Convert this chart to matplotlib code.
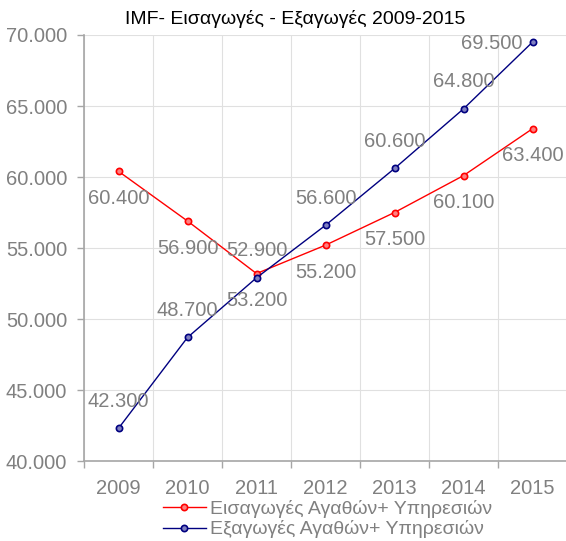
import matplotlib
matplotlib.use("Agg")
import matplotlib.pyplot as plt
from matplotlib.lines import Line2D

years = ["2009", "2010", "2011", "2012", "2013", "2014", "2015"]
imports = [60400, 56900, 53200, 55200, 57500, 60100, 63400]
exports = [42300, 48700, 52900, 56600, 60600, 64800, 69500]
title = "IMF- Εισαγωγές - Εξαγωγές 2009-2015"
imports_name = "Εισαγωγές Αγαθών+ Υπηρεσιών"
exports_name = "Εξαγωγές Αγαθών+ Υπηρεσιών"

plt.rcParams['font.family'] = ['Liberation Sans', 'DejaVu Sans']

W, H = 566, 541
fig = plt.figure(figsize=(W / 100, H / 100), dpi=100)
L, R, T, B = 84, 567, 35, 461
ax = fig.add_axes([L / W, 1 - B / H, (R - L) / W, (B - T) / H])

red = "#FF0000"
blue = "#000080"
gray = "#808080"
fs = 14.5

x = list(range(len(years)))
ax.plot(x, imports, color=red, lw=1, marker='o', ms=4.5, mfc="#ff8080", mec=red, mew=1.2, zorder=3)
ax.plot(x, exports, color=blue, lw=1, marker='o', ms=4.5, mfc="#8080c0", mec=blue, mew=1.2, zorder=3)

def fmt(v):
    return f"{v:,.0f}".replace(",", ".")

for i, v in enumerate(imports):
    ax.annotate(fmt(v), (i, v), xytext=(0, -27), textcoords='offset pixels',
                ha='center', va='center', fontsize=fs, color=gray, zorder=4)
for i, v in enumerate(exports):
    if i == len(exports) - 1:
        off = (-41, -1)
    else:
        off = (0, 27)
    ax.annotate(fmt(v), (i, v), xytext=off, textcoords='offset pixels',
                ha='center', va='center', fontsize=fs, color=gray, zorder=4)

ax.set_xlim(-0.5, len(years) - 0.5)
ax.set_ylim(40000, 70000)
ax.set_yticks(range(40000, 70001, 5000))
ax.set_yticklabels([fmt(v) for v in range(40000, 70001, 5000)])
ax.set_xticks(x)
ax.set_xticklabels(years)
ax.set_xticks([i - 0.5 for i in range(len(years) + 1)], minor=True)

ax.tick_params(axis='y', length=5, width=1, color="#a6a6a6", labelsize=fs, labelcolor=gray, pad=7)
ax.tick_params(axis='x', which='major', length=0, labelsize=fs, labelcolor=gray, pad=13)
ax.tick_params(axis='x', which='minor', length=5, width=1, color="#a6a6a6")

ax.grid(True, axis='y', which='major', color="#e0e0e0", lw=0.8)
ax.grid(True, axis='x', which='minor', color="#e0e0e0", lw=0.8)
ax.set_axisbelow(True)

for s in ['top', 'right']:
    ax.spines[s].set_visible(False)
for s in ['left', 'bottom']:
    ax.spines[s].set_color("#a6a6a6")
    ax.spines[s].set_linewidth(1.2)

fig.text(295 / W, 1 - 19 / H, title, ha='center', va='center', fontsize=14, color='black')

handles = [
    Line2D([], [], color=red, lw=1, marker='o', ms=4.5, mfc="#ff8080", mec=red, mew=1.2),
    Line2D([], [], color=blue, lw=1, marker='o', ms=4.5, mfc="#8080c0", mec=blue, mew=1.2),
]
leg = fig.legend(handles, [imports_name, exports_name], loc='center left',
                 bbox_to_anchor=(163 / W, 1 - 519 / H), frameon=False, fontsize=14,
                 handlelength=2.2, handletextpad=0.2, labelspacing=0.15,
                 borderpad=0, borderaxespad=0)
for t in leg.get_texts():
    t.set_color(gray)

fig.savefig("out.png", dpi=100)
